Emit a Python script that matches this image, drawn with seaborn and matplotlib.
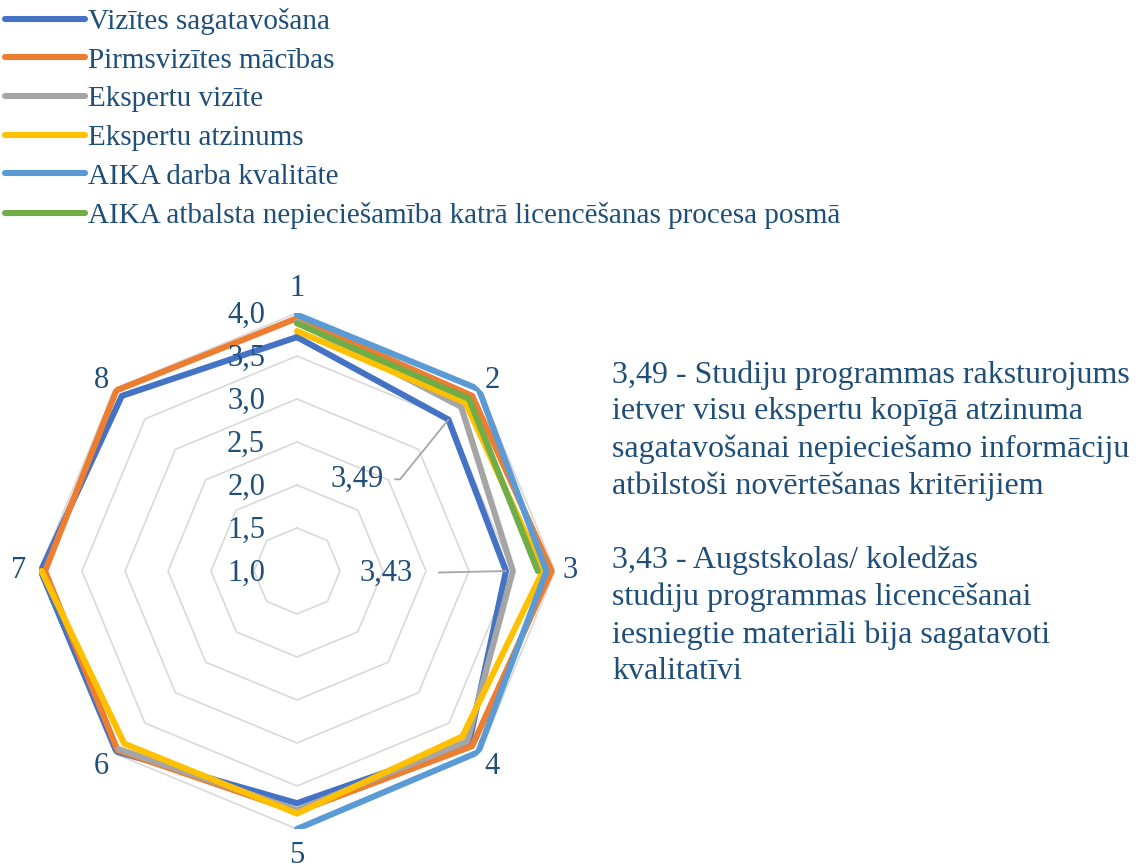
import numpy as np
import pandas as pd
import matplotlib
matplotlib.use("Agg")
import matplotlib.pyplot as plt
import seaborn as sns

# categories (radar spokes) and radial scale
categories = ["1", "2", "3", "4", "5", "6", "7", "8"]
r_ticks = [1.0, 1.5, 2.0, 2.5, 3.0, 3.5, 4.0]

series_names = [
    "Vizītes sagatavošana",
    "Pirmsvizītes mācības",
    "Ekspertu vizīte",
    "Ekspertu atzinums",
    "AIKA darba kvalitāte",
    "AIKA atbalsta nepieciešamība katrā licencēšanas procesa posmā",
]
series_colors = ["#4472C4", "#ED7D31", "#A5A5A5", "#FFC000", "#5B9BD5", "#70AD47"]

# values (None = no answer for that item)
vizites_sagatavosana = [3.72, 3.49, 3.43, 3.83, 3.70, 3.97, 3.98, 3.88]
pirmsvizites_macibas = [3.94, 3.88, 3.96, 3.88, 3.80, 3.95, 3.93, 3.97]
ekspertu_vizite = [3.90, 3.70, 3.51, 3.80, 3.78, 3.93, None, None]
ekspertu_atzinums = [3.79, 3.77, 3.86, 3.72, 3.82, 3.84, 3.97, None]
aika_darba_kvalitate = [3.98, 3.99, 3.90, 3.98, 4.00, None, None, None]
aika_atbalsts = [3.88, 3.83, 3.80, None, None, None, None, None]

all_values = [vizites_sagatavosana, pirmsvizites_macibas, ekspertu_vizite,
              ekspertu_atzinums, aika_darba_kvalitate, aika_atbalsts]

note_text = ("3,49 - Studiju programmas raksturojums\n"
             "ietver visu ekspertu kopīgā atzinuma\n"
             "sagatavošanai nepieciešamo informāciju\n"
             "atbilstoši novērtēšanas kritērijiem\n"
             "\n"
             "3,43 - Augstskolas/ koledžas\n"
             "studiju programmas licencēšanai\n"
             "iesniegtie materiāli bija sagatavoti\n"
             "kvalitatīvi")

TXT = "#1F4E79"
FS = 22          # axis labels
FS_LEG = 21      # legend
FS_NOTE = 23     # side note

sns.set_theme(style="white")
plt.rcParams["font.family"] = ["Liberation Serif", "DejaVu Serif"]

n = len(categories)
theta = np.arange(n) * 2 * np.pi / n

# long table; full series get closed back to the first spoke
rows = []
for name, vals in zip(series_names, all_values):
    for t, v in zip(theta, vals):
        if v is not None:
            rows.append((name, t, v))
    if None not in vals:
        rows.append((name, 2 * np.pi, vals[0]))
df = pd.DataFrame(rows, columns=["series", "theta", "value"])

fig = plt.figure(figsize=(11.36, 8.68), dpi=100)
ax = fig.add_axes([39 / 1136, 39 / 868, 516 / 1136, 516 / 868], projection="polar")
ax.set_theta_zero_location("N")
ax.set_theta_direction(-1)

# octagonal gridlines instead of circles
ring_theta = np.append(theta, theta[0])
for v in r_ticks[1:]:
    ax.plot(ring_theta, [v] * (n + 1), color="#D9D9D9", lw=1.2, zorder=1)

sns.lineplot(data=df, x="theta", y="value", hue="series", hue_order=series_names,
             palette=dict(zip(series_names, series_colors)), estimator=None,
             sort=True, linewidth=4.4, ax=ax, zorder=3)

ax.set_ylim(1, 4)
ax.grid(False)
ax.spines["polar"].set_visible(False)
ax.set_xlabel("")
ax.set_ylabel("")
ax.set_yticks([])
ax.set_xticks(theta)
ax.set_xticklabels([])

# category labels just outside the outer ring (further out on the vertical spokes)
for t, cat in zip(theta, categories):
    c = np.cos(t)
    if c > 0.1:
        d, shift = 11 + 10 * c ** 4, -3.5
    else:
        d, shift = 11 + 8 * c ** 4, 0
    dx = d * np.sin(t) - (4 if np.sin(t) < -0.9 else 0)
    ax.annotate(cat, xy=(t, r_ticks[-1]), xytext=(dx, d * c + shift),
                textcoords="offset points", ha="center", va="center",
                fontsize=FS, color=TXT, annotation_clip=False)

# radial value labels next to spoke 1
for v in r_ticks:
    ax.annotate(f"{v:.1f}".replace(".", ","), xy=(0, v), xytext=(-23, -2),
                textcoords="offset points", ha="right", va="center",
                fontsize=FS, color=TXT, zorder=5)

# data labels with leader lines for the two lowest points
lbl = lambda v: f"{v:.2f}".replace(".", ",")
ax.annotate(lbl(vizites_sagatavosana[1]), xy=(theta[1], vizites_sagatavosana[1]),
            xytext=(-66, -43), textcoords="offset points", ha="center", va="center",
            fontsize=FS, color=TXT, zorder=5,
            arrowprops=dict(arrowstyle="-", color="#A6A6A6", lw=1.3, shrinkA=6, shrinkB=0,
                            connectionstyle="angle,angleA=0,angleB=51,rad=0"))
ax.annotate(lbl(vizites_sagatavosana[2]), xy=(theta[2], vizites_sagatavosana[2]),
            xytext=(-86, -2), textcoords="offset points", ha="center", va="center",
            fontsize=FS, color=TXT, zorder=5,
            arrowprops=dict(arrowstyle="-", color="#A6A6A6", lw=1.3, shrinkA=16, shrinkB=0))

handles, labels = ax.get_legend_handles_labels()
if ax.get_legend() is not None:
    ax.get_legend().remove()
for h in handles:
    h.set_linewidth(4.4)
fig.legend(handles, labels, loc="upper left", bbox_to_anchor=(5 / 1136, 1 - 8 / 868),
           frameon=False, fontsize=FS_LEG, labelcolor=TXT, handlelength=2.75,
           handletextpad=0.1, labelspacing=0.42, borderpad=0, borderaxespad=0)

fig.text(612 / 1136, 1 - 360 / 868, note_text, ha="left", va="top",
         fontsize=FS_NOTE, color=TXT, linespacing=1.35)

fig.savefig("out.png", dpi=100)
